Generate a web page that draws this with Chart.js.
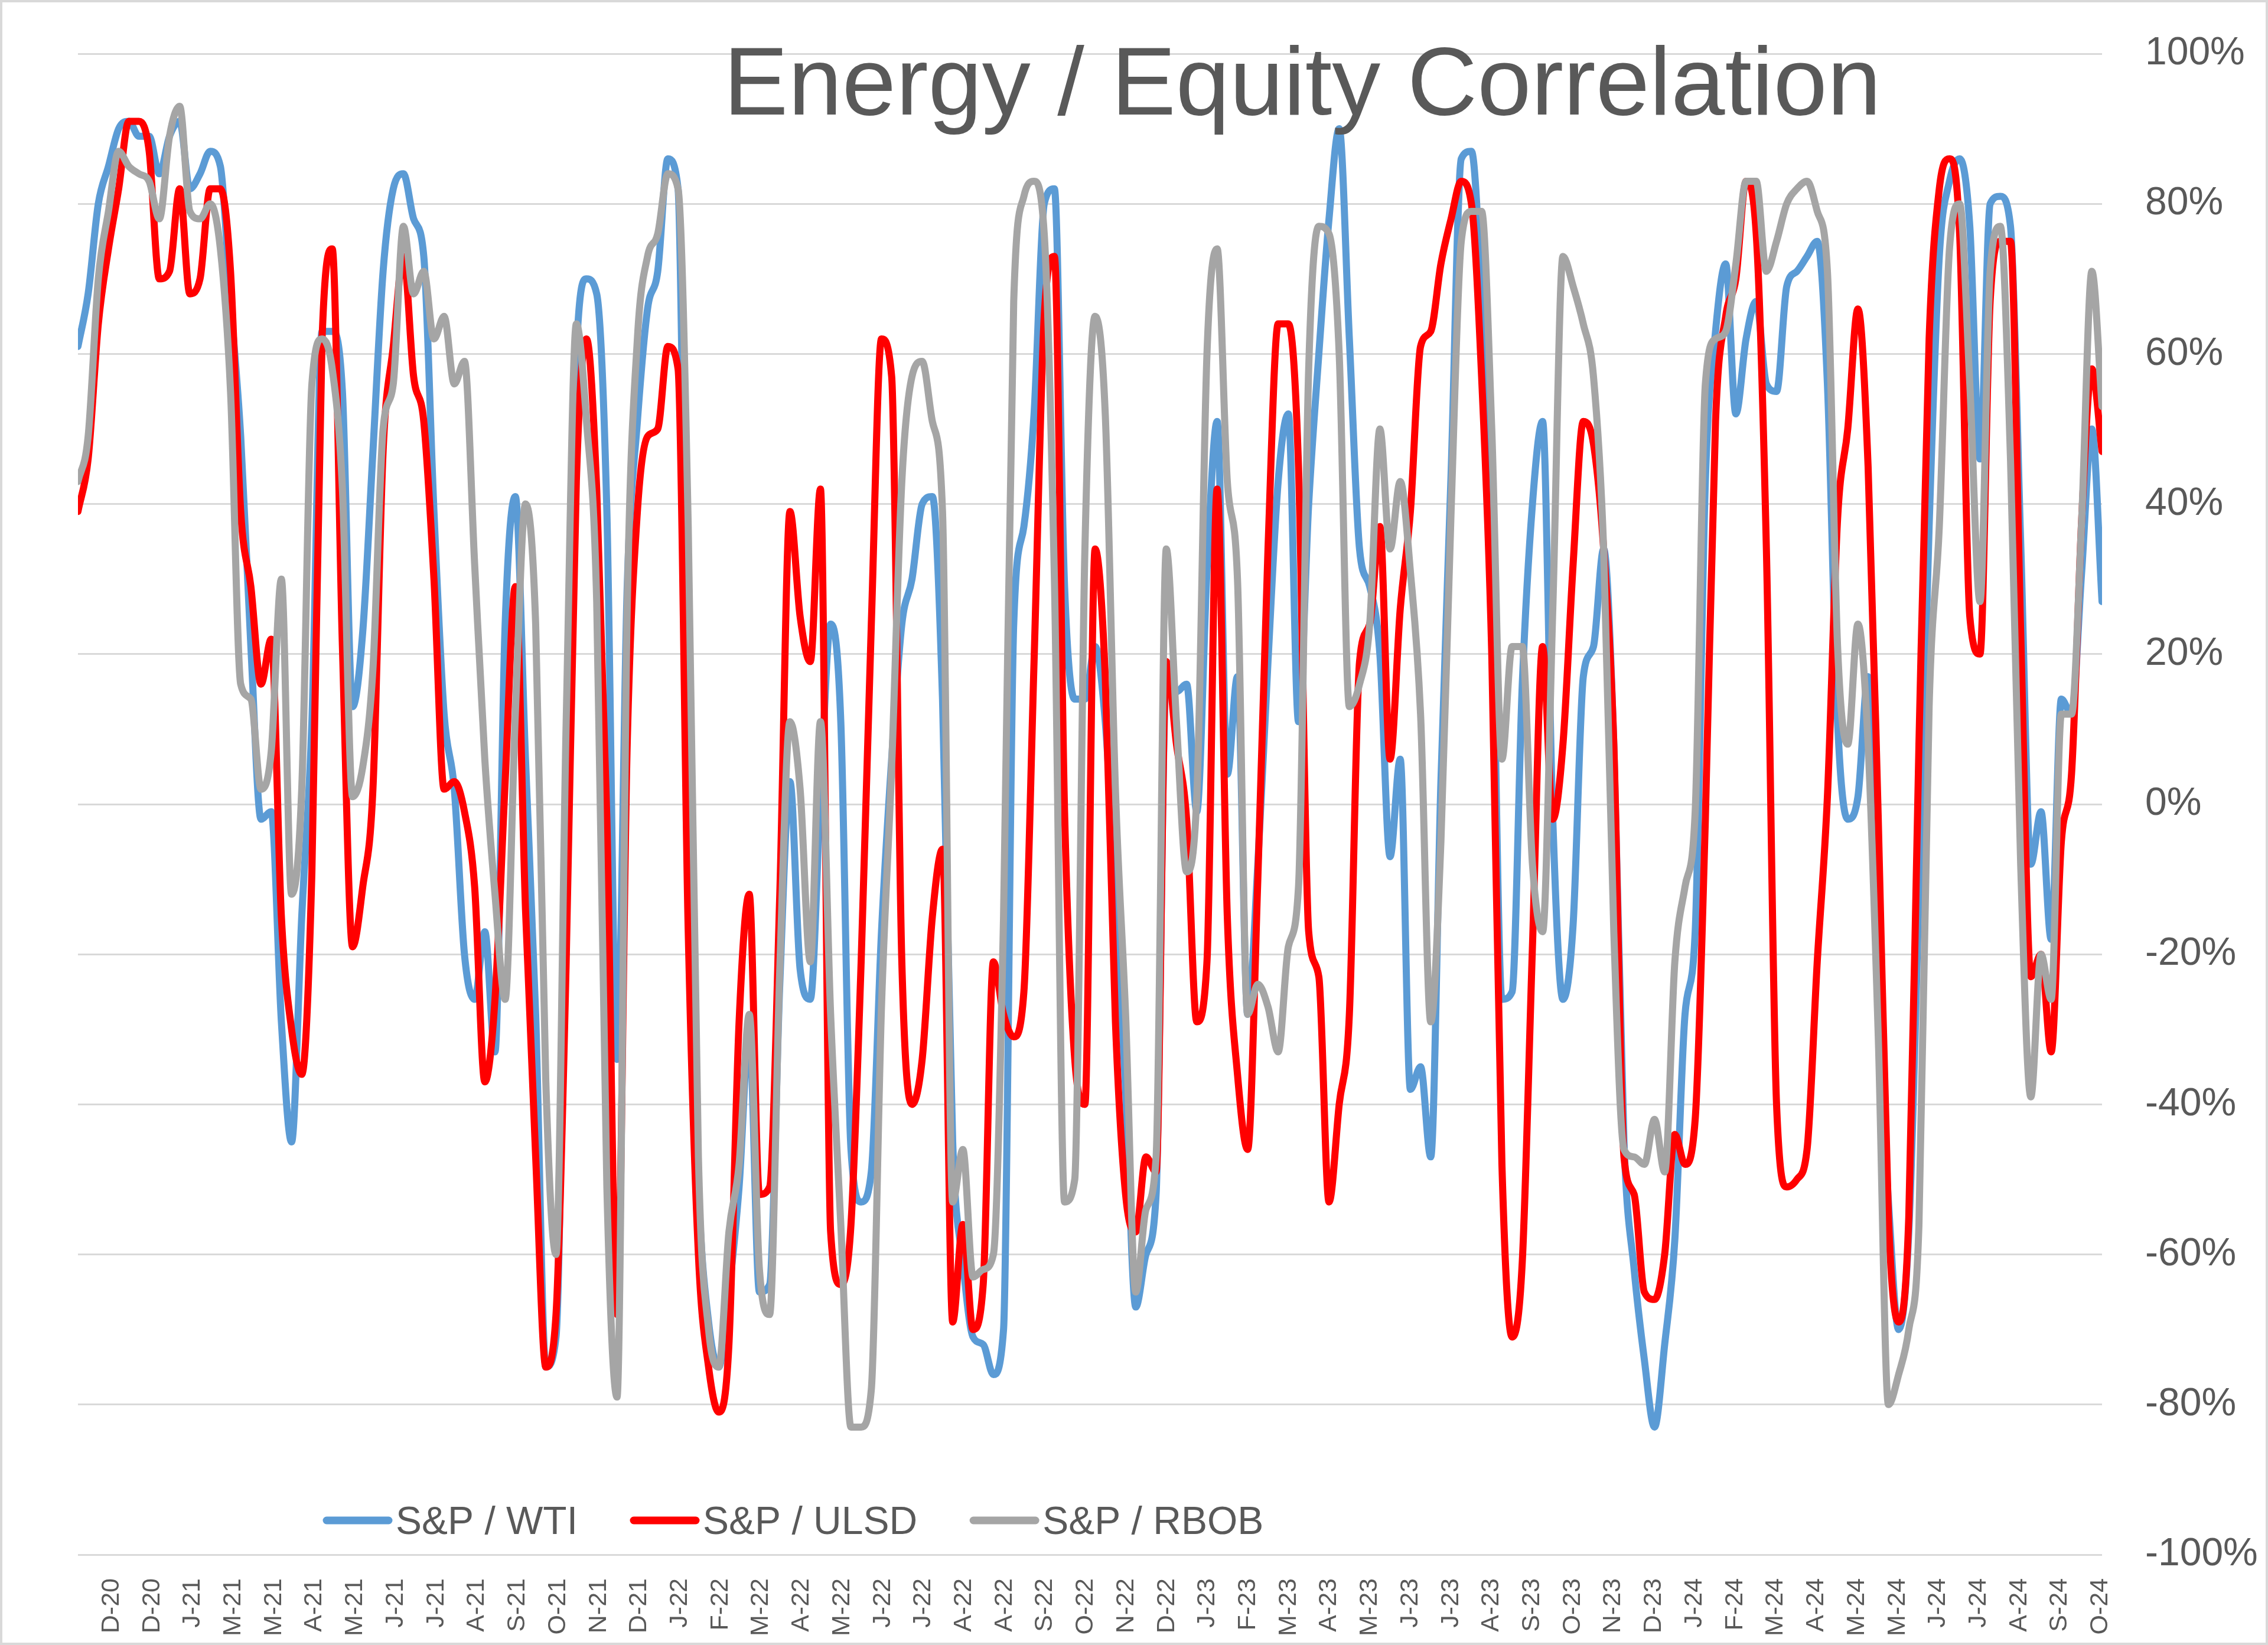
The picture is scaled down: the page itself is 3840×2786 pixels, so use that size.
<!DOCTYPE html>
<html>
<head>
<meta charset="utf-8">
<script src="https://cdn.jsdelivr.net/npm/chart.js@4/dist/chart.umd.min.js"></script>
<style>
  html, body { margin: 0; padding: 0; background: #fff; }
  #wrap { width: 3840px; height: 2786px; }
</style>
</head>
<body>
<div id="wrap"><canvas id="corrChart"></canvas></div>
<script>
// Date axis labels (Excel puts one every ~21 trading days, hence the repeats)
const xLabels = [
  'D-20', 'D-20', 'J-21', 'M-21', 'M-21', 'A-21', 'M-21', 'J-21', 'J-21', 'A-21',
  'S-21', 'O-21', 'N-21', 'D-21', 'J-22', 'F-22', 'M-22', 'A-22', 'M-22', 'J-22',
  'J-22', 'A-22', 'A-22', 'S-22', 'O-22', 'N-22', 'D-22', 'J-23', 'F-23', 'M-23',
  'A-23', 'M-23', 'J-23', 'J-23', 'A-23', 'S-23', 'O-23', 'N-23', 'D-23', 'J-24',
  'F-24', 'M-24', 'A-24', 'M-24', 'M-24', 'J-24', 'J-24', 'A-24', 'S-24', 'O-24'
];

// weekly samples, position measured in label units
const xStart = -0.83;
const xEnd = 49.04;

const chartTitle = 'Energy / Equity Correlation';
const seriesNames = ['S&P / WTI', 'S&P / ULSD', 'S&P / RBOB'];

// correlation, in %
const wti = [
  61, 68, 80, 85, 90, 91, 89, 89, 84, 89,
  91, 82, 84, 87, 85, 67, 49, 21, -2, -1,
  -29, -45, -15, 11, 63, 63, 55, 13, 23, 47,
  71, 82, 84, 78, 73, 39, 12, 2, -20, -26,
  -17, -33, 24, 41, 6, -28, -75, -71, -5, 60,
  70, 68, 39, -34, 29, 51, 66, 71, 86, 82,
  -2, -51, -69, -75, -65, -51, -30, -65, -64, -24,
  3, -22, -26, 1, 24, 11, -46, -53, -49, -17,
  6, 24, 30, 40, 41, 14, -45, -61, -71, -72,
  -76, -70, 24, 37, 52, 80, 82, 29, 14, 14,
  21, 11, -12, -38, -67, -60, -52, 17, 15, 16,
  -1, 31, 51, 4, 17, -28, -8, 19, 43, 52,
  11, 40, 60, 78, 90, 62, 34, 29, 20, -7,
  6, -38, -35, -47, 3, 44, 86, 87, 67, 32,
  -26, -25, 16, 40, 51, -2, -26, -16, 17, 21,
  34, 8, -45, -62, -74, -83, -72, -58, -28, -17,
  43, 63, 72, 52, 62, 67, 56, 55, 69, 71,
  73, 75, 56, 11, -2, 1, 17, -28, -53, -70,
  -57, -12, 37, 73, 83, 86, 77, 46, 80, 81,
  77, 35, -8, -1, -18, 14, 12, 31, 50, 27
];

const ulsd = [
  39, 46, 64, 74, 82, 91, 91, 87, 70, 71,
  82, 68, 70, 82, 82, 71, 39, 29, 16, 22,
  -15, -30, -36, -9, 62, 74, 21, -19, -11, 2,
  47, 61, 73, 57, 51, 30, 2, 3, -1, -11,
  -37, -26, 3, 29, -14, -47, -75, -68, -21, 43,
  62, 42, -2, -68, 8, 39, 49, 50, 61, 58,
  -17, -60, -75, -81, -72, -29, -12, -52, -51, -12,
  39, 25, 19, 42, -57, -64, -56, -21, 24, 62,
  57, -21, -40, -34, -15, -6, -69, -56, -70, -64,
  -21, -28, -31, -25, 19, 65, 73, -1, -34, -40,
  34, 17, -29, -52, -57, -47, -49, 19, 8, -2,
  -29, -21, 42, -15, -36, -46, -10, 34, 64, 64,
  45, -17, -23, -53, -40, -28, 19, 24, 37, 6,
  26, 39, 61, 63, 72, 78, 83, 80, 57, 20,
  -48, -71, -61, -19, 21, -2, 8, 32, 51, 48,
  34, 8, -47, -52, -65, -66, -60, -44, -48, -42,
  -2, 51, 65, 70, 83, 76, 34, -40, -51, -50,
  -46, -21, 1, 38, 50, 66, 45, -2, -55, -69,
  -55, 8, 62, 82, 86, 76, 25, 20, 67, 75,
  75, 23, -23, -20, -33, -5, 4, 38, 58, 47
];

const rbob = [
  43, 49, 70, 79, 87, 85, 84, 83, 78, 89,
  93, 79, 78, 80, 74, 55, 16, 14, 2, 7,
  30, -12, 2, 56, 62, 58, 42, 1, 5, 18,
  50, 56, 77, 68, 71, 62, 65, 56, 59, 32,
  6, -12, -26, 12, 40, 24, -37, -60, 11, 64,
  51, 27, -51, -79, 26, 62, 73, 76, 84, 82,
  37, -47, -70, -75, -57, -48, -28, -62, -68, -22,
  11, 2, -21, 11, -28, -56, -83, -83, -78, -27,
  5, 43, 57, 59, 51, 39, -53, -46, -63, -62,
  -60, -15, 67, 81, 83, 76, 30, -53, -50, 34,
  65, 52, 2, -28, -65, -54, -47, 34, 11, -9,
  1, 60, 74, 43, 30, -28, -24, -27, -33, -19,
  -11, 58, 77, 76, 60, 13, 16, 24, 50, 34,
  43, 31, 12, -29, -5, 39, 75, 79, 79, 50,
  6, 21, 21, -8, -17, 26, 73, 69, 64, 57,
  34, -17, -46, -47, -48, -42, -49, -21, -11, -1,
  56, 62, 63, 72, 83, 83, 71, 75, 80, 82,
  83, 79, 71, 21, 8, 24, 8, -31, -80, -76,
  -70, -56, 13, 37, 74, 80, 56, 27, 71, 77,
  46, -8, -39, -20, -26, 12, 12, 38, 71, 53
];

const FONT = '"Liberation Sans", Arial, sans-serif';
const TEXT = '#595959';

Chart.defaults.font.family = FONT;
Chart.defaults.color = TEXT;

const xStep = (xEnd - xStart) / (wti.length - 1);
function toPoints(values) {
  return values.map((v, i) => ({ x: xStart + i * xStep, y: v }));
}

// white page with the thin grey frame Excel draws round the chart
const framePlugin = {
  id: 'frame',
  beforeDraw(chart) {
    const ctx = chart.ctx;
    ctx.save();
    ctx.fillStyle = '#ffffff';
    ctx.fillRect(0, 0, chart.width, chart.height);
    ctx.strokeStyle = '#d9d9d9';
    ctx.lineWidth = 4;
    ctx.strokeRect(2, 2, chart.width - 4, chart.height - 4);
    ctx.restore();
  }
};

// title and legend both sit inside the plot area
const overlayPlugin = {
  id: 'overlay',
  afterDraw(chart) {
    const ctx = chart.ctx;
    ctx.save();
    ctx.fillStyle = TEXT;
    ctx.font = '164px ' + FONT;
    ctx.textAlign = 'center';
    ctx.textBaseline = 'alphabetic';
    ctx.fillText(chartTitle, 2205, 194);

    ctx.font = '66px ' + FONT;
    ctx.textAlign = 'left';
    let x = 547;
    const y = 2575;
    chart.data.datasets.forEach(ds => {
      ctx.strokeStyle = ds.borderColor;
      ctx.lineWidth = 13;
      ctx.lineCap = 'round';
      ctx.beginPath();
      ctx.moveTo(x + 6, y);
      ctx.lineTo(x + 111, y);
      ctx.stroke();
      ctx.fillStyle = TEXT;
      ctx.fillText(ds.label, x + 123, 2598);
      x += 123 + ctx.measureText(ds.label).width + 89;
    });
    ctx.restore();
  }
};

const lineStyle = {
  borderWidth: 12,
  pointRadius: 0,
  pointHoverRadius: 0,
  cubicInterpolationMode: 'monotone',
  borderJoinStyle: 'round',
  borderCapStyle: 'round',
  fill: false
};

const ctx = document.getElementById('corrChart').getContext('2d');
new Chart(ctx, {
  type: 'line',
  data: {
    datasets: [
      { ...lineStyle, label: seriesNames[0], data: toPoints(wti), borderColor: '#5b9bd5', order: 3 },
      { ...lineStyle, label: seriesNames[1], data: toPoints(ulsd), borderColor: '#ff0000', order: 2 },
      { ...lineStyle, label: seriesNames[2], data: toPoints(rbob), borderColor: '#a5a5a5', order: 1 }
    ]
  },
  options: {
    responsive: true,
    maintainAspectRatio: false,
    devicePixelRatio: 1,
    animation: false,
    layout: { padding: { left: 132, top: 91, right: 0, bottom: 0 } },
    plugins: {
      legend: { display: false },
      title: { display: false },
      tooltip: { enabled: false }
    },
    scales: {
      x: {
        type: 'linear',
        min: xStart,
        max: xEnd,
        grid: { display: false },
        border: { display: false },
        afterBuildTicks: (scale) => {
          scale.ticks = xLabels.map((_, i) => ({ value: i }));
        },
        afterFit: (scale) => { scale.height = 153; },
        ticks: {
          autoSkip: false,
          minRotation: 90,
          maxRotation: 90,
          padding: 32,
          color: TEXT,
          font: { size: 43 },
          callback: (value, index) => xLabels[index]
        }
      },
      y: {
        position: 'right',
        min: -100,
        max: 100,
        // invisible tick marks keep the labels clear of the plot without padding the top
        grid: { color: '#d9d9d9', lineWidth: 3, drawTicks: true, tickLength: 73, tickColor: 'rgba(0,0,0,0)' },
        border: { display: false },
        afterFit: (scale) => { scale.width = 281; },
        ticks: {
          stepSize: 20,
          padding: 0,
          color: TEXT,
          font: { size: 66 },
          callback: (v) => v + '%'
        }
      }
    }
  },
  plugins: [framePlugin, overlayPlugin]
});
</script>
</body>
</html>
